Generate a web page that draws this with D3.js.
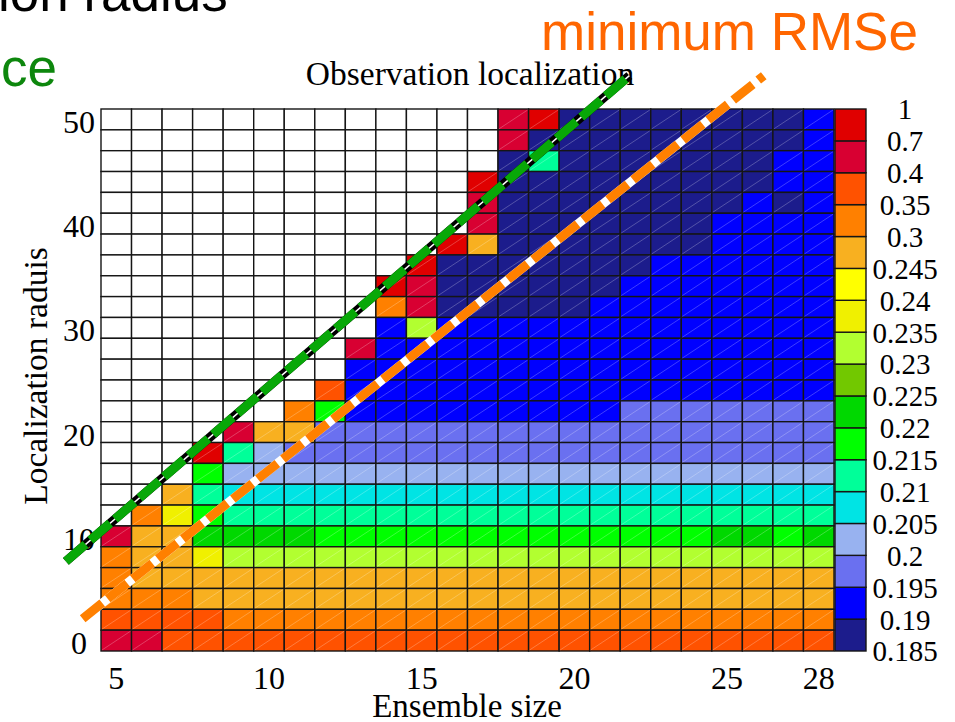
<!DOCTYPE html>
<html>
<head>
<meta charset="utf-8">
<script src="https://cdn.jsdelivr.net/npm/d3@7"></script>
<style>
  body { margin: 0; background: #fff; }
  svg { display: block; }
</style>
</head>
<body>
<div id="chart"></div>
<script>
// x: ensemble size, y: localization radius (top row first)
const ensembleSizes = [5, 6, 7, 8, 9, 10, 11, 12, 13, 14, 15, 16, 17, 18, 19, 20, 21, 22, 23, 24, 25, 26, 27, 28]
const radii = [50, 48, 46, 44, 42, 40, 38, 36, 34, 32, 30, 28, 26, 24, 22, 20, 18, 16, 14, 12, 10, 8, 6, 4, 2, 0]
const xTicks = [5, 10, 15, 20, 25, 28]
const yTicks = [0, 10, 20, 30, 40, 50]

// colorbar labels, top to bottom, and the bin colours from low to high
const colorTicks = [1, 0.7, 0.4, 0.35, 0.3, 0.245, 0.24, 0.235, 0.23, 0.225, 0.22, 0.215, 0.21, 0.205, 0.2, 0.195, 0.19, 0.185]
const binColors = ['#1c1c8c', '#0000ff', '#6a70f0', '#98b2f0', '#00e4e4', '#00ff99', '#00ff00', '#00d800',
                   '#72c800', '#b2ff30', '#f0f000', '#ffff00', '#f8b020', '#ff8000', '#ff5200', '#d80032', '#e00000']

// RMSe, one row per radius (same order as radii); null = not computed
const n = null
const rmse = [
  [n, n, n, n, n, n,  n, n, n, n, n, n,  n, .52, .85, .188, .188, .188,  .188, .188, .188, .188, .188, .192],
  [n, n, n, n, n, n,  n, n, n, n, n, n,  n, .52, .188, .188, .188, .188,  .188, .188, .188, .188, .188, .192],
  [n, n, n, n, n, n,  n, n, n, n, n, n,  n, .188, .212, .188, .188, .188,  .188, .188, .188, .188, .192, .192],
  [n, n, n, n, n, n,  n, n, n, n, n, n,  .85, .188, .188, .188, .188, .188,  .188, .188, .188, .188, .192, .192],
  [n, n, n, n, n, n,  n, n, n, n, n, n,  .52, .188, .188, .188, .188, .188,  .188, .188, .188, .192, .188, .192],
  [n, n, n, n, n, n,  n, n, n, n, n, n,  .52, .188, .188, .188, .188, .188,  .188, .188, .192, .192, .192, .192],
  [n, n, n, n, n, n,  n, n, n, n, n, .85,  .27, .188, .188, .188, .188, .188,  .188, .188, .192, .192, .192, .192],
  [n, n, n, n, n, n,  n, n, n, n, .85, .188,  .188, .188, .188, .188, .188, .188,  .192, .192, .192, .192, .192, .192],
  [n, n, n, n, n, n,  n, n, n, .85, .52, .188,  .188, .188, .188, .188, .188, .192,  .192, .192, .192, .192, .192, .192],
  [n, n, n, n, n, n,  n, n, n, .32, .52, .188,  .188, .188, .188, .188, .192, .192,  .192, .192, .192, .192, .192, .192],
  [n, n, n, n, n, n,  n, n, n, .192, .232, .192,  .192, .192, .192, .192, .192, .192,  .192, .192, .192, .192, .192, .192],
  [n, n, n, n, n, n,  n, n, .52, .192, .192, .192,  .192, .192, .192, .192, .192, .192,  .192, .192, .192, .192, .192, .192],
  [n, n, n, n, n, n,  n, n, .192, .192, .192, .192,  .192, .192, .192, .192, .192, .192,  .192, .192, .192, .192, .192, .192],
  [n, n, n, n, n, n,  n, .37, .192, .192, .192, .192,  .192, .192, .192, .192, .192, .192,  .192, .192, .192, .192, .192, .192],
  [n, n, n, n, n, n,  .32, .217, .192, .192, .192, .192,  .192, .192, .192, .192, .192, .197,  .197, .197, .197, .197, .197, .197],
  [n, n, n, n, .52, .27,  .27, .197, .197, .197, .197, .197,  .197, .197, .197, .197, .197, .197,  .197, .197, .197, .197, .197, .197],
  [n, n, n, .85, .212, .202,  .197, .197, .197, .197, .197, .197,  .197, .197, .197, .197, .197, .197,  .197, .197, .197, .197, .197, .197],
  [n, n, n, .217, .202, .202,  .202, .202, .202, .202, .202, .202,  .202, .202, .202, .202, .202, .202,  .202, .202, .202, .202, .202, .202],
  [n, n, .27, .212, .207, .207,  .207, .207, .207, .207, .207, .207,  .207, .207, .207, .207, .207, .207,  .207, .207, .207, .207, .207, .207],
  [n, .32, .237, .217, .212, .212,  .212, .212, .212, .212, .212, .212,  .212, .212, .212, .212, .212, .212,  .212, .212, .212, .212, .212, .212],
  [.52, .27, .27, .222, .222, .222,  .222, .217, .217, .217, .217, .217,  .217, .217, .217, .217, .217, .217,  .217, .217, .222, .222, .217, .222],
  [.32, .27, .27, .237, .232, .232,  .232, .232, .232, .232, .232, .232,  .232, .232, .232, .232, .232, .232,  .232, .232, .232, .232, .232, .232],
  [.32, .27, .27, .27, .27, .27,  .27, .27, .27, .27, .27, .27,  .27, .27, .27, .27, .27, .27,  .27, .27, .27, .27, .27, .27],
  [.32, .32, .32, .27, .27, .27,  .27, .27, .27, .27, .27, .27,  .27, .27, .27, .27, .27, .27,  .27, .27, .27, .27, .27, .27],
  [.37, .37, .37, .37, .32, .32,  .32, .32, .32, .32, .32, .32,  .32, .32, .32, .32, .32, .32,  .32, .32, .32, .32, .32, .32],
  [.52, .52, .37, .37, .37, .37,  .37, .37, .37, .37, .37, .37,  .37, .37, .37, .37, .37, .37,  .37, .37, .37, .37, .37, .37]
]

// the two annotation lines, [ensemble size, radius] end points
const fitLine = [[3.35, 7.6], [21.8, 54.2]]
const minRmseLine = [[3.9, 2.1], [26.2, 54.2]]

const width = 955, height = 722
const plot = {left: 101, right: 834, top: 109, bottom: 651}
const serif = '"Liberation Serif", "Times New Roman", serif'
const sans = '"Liberation Sans", Arial, sans-serif'

const svg = d3.select('#chart').append('svg')
  .attr('width', width)
  .attr('height', height)

// scales
const x = d3.scaleBand().domain(ensembleSizes).range([plot.left, plot.right])
const y = d3.scaleBand().domain(radii).range([plot.top, plot.bottom])
const xLin = d3.scaleLinear().domain([4.5, 28.5]).range([plot.left, plot.right])
const yLin = d3.scaleLinear().domain([-1, 51]).range([plot.bottom, plot.top])

const ascTicks = colorTicks.slice().reverse()
const color = d3.scaleThreshold()
  .domain(ascTicks.slice(1, -1))
  .range(binColors)

// flatten cells
const cells = []
rmse.forEach((row, i) => row.forEach((v, j) => {
  cells.push({ens: ensembleSizes[j], rad: radii[i], value: v})
}))

// heat map cells
const cellG = svg.append('g')
cellG.selectAll('rect')
  .data(cells)
  .enter().append('rect')
  .attr('x', d => x(d.ens))
  .attr('y', d => y(d.rad))
  .attr('width', x.bandwidth())
  .attr('height', y.bandwidth())
  .attr('fill', d => d.value === null ? '#fff' : color(d.value))
  .attr('stroke', '#151515')
  .attr('stroke-width', 1.4)

// faint diagonal in each filled cell
cellG.selectAll('line')
  .data(cells.filter(d => d.value !== null))
  .enter().append('line')
  .attr('x1', d => x(d.ens) + 1)
  .attr('y1', d => y(d.rad) + y.bandwidth() - 1)
  .attr('x2', d => x(d.ens) + x.bandwidth() - 1)
  .attr('y2', d => y(d.rad) + 1)
  .attr('stroke', 'rgba(255,255,255,0.35)')
  .attr('stroke-width', 0.7)

// axes
const yAxis = svg.append('g')
  .attr('transform', `translate(${plot.left},0)`)
  .call(d3.axisLeft(y).tickValues(yTicks).tickSize(0))
yAxis.select('.domain').remove()
yAxis.selectAll('text')
  .attr('x', -22)
  .attr('dy', '0.42em')
  .attr('text-anchor', 'middle')
  .style('font-family', serif)
  .style('font-size', '32px')
  .attr('fill', '#000')

const xAxis = svg.append('g')
  .attr('transform', `translate(0,${plot.bottom})`)
  .call(d3.axisBottom(x).tickValues(xTicks).tickSize(0).tickPadding(15))
xAxis.select('.domain').remove()
xAxis.selectAll('text')
  .style('font-family', serif)
  .style('font-size', '32px')
  .attr('fill', '#000')

// axis titles and chart title
svg.append('text')
  .attr('x', 467).attr('y', 717)
  .attr('text-anchor', 'middle')
  .style('font-family', serif).style('font-size', '33px')
  .text('Ensemble size')

svg.append('text')
  .attr('transform', 'translate(47,376) rotate(-90)')
  .attr('text-anchor', 'middle')
  .style('font-family', serif).style('font-size', '33.5px')
  .text('Localization raduis')

svg.append('text')
  .attr('x', 470).attr('y', 85)
  .attr('text-anchor', 'middle')
  .style('font-family', serif).style('font-size', '33.5px')
  .text('Observation localization')

// colorbar
const yBar = d3.scalePoint().domain(colorTicks).range([plot.top, plot.bottom])
const bins = binColors.map((c, i) => ({lo: ascTicks[i], hi: ascTicks[i + 1], color: c}))
svg.append('g').selectAll('rect')
  .data(bins)
  .enter().append('rect')
  .attr('x', 835)
  .attr('y', d => yBar(d.hi))
  .attr('width', 31)
  .attr('height', d => yBar(d.lo) - yBar(d.hi))
  .attr('fill', d => d.color)
  .attr('stroke', '#151515')
  .attr('stroke-width', 1.4)

svg.append('g').selectAll('text')
  .data(colorTicks)
  .enter().append('text')
  .attr('x', 905)
  .attr('y', d => yBar(d))
  .attr('dy', '0.36em')
  .attr('text-anchor', 'middle')
  .style('font-family', serif).style('font-size', '29px')
  .text(d => d)

// annotation lines
const line = d3.line().x(d => xLin(d[0])).y(d => yLin(d[1]))

svg.append('path').attr('d', line(fitLine))
  .attr('stroke', '#000').attr('stroke-width', 9).attr('fill', 'none')
svg.append('path').attr('d', line(fitLine))
  .attr('stroke', '#fff').attr('stroke-width', 1.5).attr('fill', 'none')
svg.append('path').attr('d', line(fitLine))
  .attr('stroke', '#08a808').attr('stroke-width', 9).attr('fill', 'none')
  .attr('stroke-dasharray', '26,6.4')

svg.append('path').attr('d', line(minRmseLine))
  .attr('stroke', '#fff').attr('stroke-width', 9).attr('fill', 'none')
svg.append('path').attr('d', line(minRmseLine))
  .attr('stroke', '#ff8000').attr('stroke-width', 9).attr('fill', 'none')
  .attr('stroke-dasharray', '25,7')

// slide text cut off at the edges
svg.append('text')
  .attr('x', -2).attr('y', 11)
  .style('font-family', sans).style('font-size', '53px')
  .attr('fill', '#000')
  .text('ion radius')

svg.append('text')
  .attr('x', 1).attr('y', 86)
  .style('font-family', sans).style('font-size', '53px')
  .attr('fill', '#0d870d')
  .text('ce')

svg.append('text')
  .attr('x', 541).attr('y', 50)
  .style('font-family', sans).style('font-size', '53px')
  .attr('fill', '#ff6600')
  .text('minimum RMSe')
</script>
</body>
</html>
